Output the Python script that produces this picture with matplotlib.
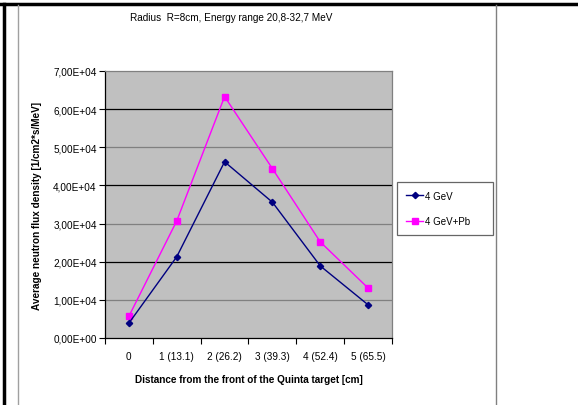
import numpy as np
import matplotlib.pyplot as plt
from matplotlib.ticker import FuncFormatter, MultipleLocator

categories = ['0', '1 (13.1)', '2 (26.2)', '3 (39.3)', '4 (52.4)', '5 (65.5)']
flux_4gev = [3.9e3, 2.13e4, 4.62e4, 3.56e4, 1.89e4, 8.7e3]
flux_4gev_pb = [5.7e3, 3.07e4, 6.33e4, 4.44e4, 2.52e4, 1.31e4]

W, H = 578, 406
fig = plt.figure(figsize=(W / 100, H / 100), dpi=100)
plt.rcParams['font.family'] = ['Liberation Sans', 'DejaVu Sans']

# page frame lines (document table borders)
fig.add_artist(plt.Line2D([0, 1], [1 - 5 / H, 1 - 5 / H], color='black', lw=2.5))
fig.add_artist(plt.Line2D([4 / W, 4 / W], [0, 1 - 5 / H], color='black', lw=2.5))
fig.add_artist(plt.Line2D([17.5 / W, 17.5 / W], [0, 1 - 6 / H], color='#A0A0A0', lw=1))
fig.add_artist(plt.Line2D([496 / W, 496 / W], [0, 1 - 6 / H], color='#808080', lw=1))

# plot area in pixels
x0, x1, y0, y1 = 105, 392, 72, 339
ax = fig.add_axes([x0 / W, 1 - y1 / H, (x1 - x0) / W, (y1 - y0) / H])
ax.set_facecolor('#C0C0C0')

x = np.arange(len(categories))
ax.set_xlim(-0.5, len(categories) - 0.5)
ax.set_ylim(0, 7e4)

for v in np.arange(1e4, 7e4, 1e4):
    c = '#000000' if int(round(v / 1e4)) % 2 == 0 else '#808080'
    ax.axhline(v, color=c, lw=0.9, zorder=1)

ax.plot(x, flux_4gev, color='#000080', marker='D', markersize=3.2, lw=1, label='4 GeV', zorder=3)
ax.plot(x, flux_4gev_pb, color='#FF00FF', marker='s', markersize=5, lw=1, label='4 GeV+Pb', zorder=2)

ax.yaxis.set_major_locator(MultipleLocator(1e4))
ax.yaxis.set_major_formatter(FuncFormatter(lambda v, p: f'{v:.2E}'.replace('.', ',')))
ax.set_xticks(x)
ax.set_xticklabels(categories)
ax.set_xticks(np.arange(-0.5, len(categories), 1), minor=True)
ax.tick_params(axis='x', which='major', length=0, pad=9, labelsize=7.2)
ax.tick_params(axis='x', which='minor', length=4, width=0.8, direction='out')
ax.tick_params(axis='y', length=4, width=0.8, direction='out', labelsize=7.2, pad=2)

for s in ['top', 'right']:
    ax.spines[s].set_color('#808080')
    ax.spines[s].set_linewidth(0.9)
for s in ['left', 'bottom']:
    ax.spines[s].set_color('black')
    ax.spines[s].set_linewidth(0.9)

ax.set_xlabel('Distance from the front of the Quinta target [cm]', fontsize=7.2, fontweight='bold', labelpad=10)
ax.set_ylabel('Average neutron flux density [1/cm2*s/MeV]', fontsize=7.2, fontweight='bold', labelpad=8)

fig.text(231 / W, 1 - 18 / H, 'Radius  R=8cm, Energy range 20,8-32,7 MeV', fontsize=7.2,
         ha='center', va='center')

leg = fig.legend(loc='upper left', bbox_to_anchor=(397 / W, 0, 96 / W, 1 - 183 / H), mode='expand',
                 fontsize=7, frameon=True, fancybox=False, edgecolor='#404040', handlelength=1.8,
                 labelspacing=1.6, borderpad=0.9, handletextpad=0.15, borderaxespad=0)
leg.get_frame().set_linewidth(0.9)

fig.savefig('out.png', dpi=100)
